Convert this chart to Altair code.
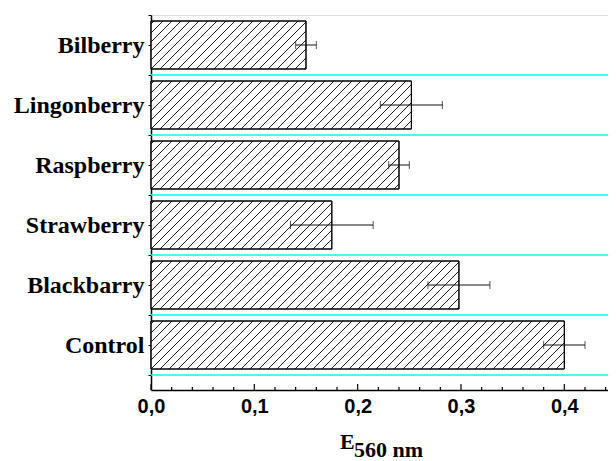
import json
import numpy as np
import pandas as pd
import altair as alt

# ---- data (top to bottom as drawn) ----
categories = ["Bilberry", "Lingonberry", "Raspberry", "Strawberry", "Blackbarry", "Control"]
values = [0.150, 0.252, 0.240, 0.175, 0.298, 0.400]
errors = [0.010, 0.030, 0.010, 0.040, 0.030, 0.020]
x_tick_values = [0.0, 0.1, 0.2, 0.3, 0.4]
x_minor_values = [0.02, 0.04, 0.06, 0.08, 0.12, 0.14, 0.16, 0.18, 0.22, 0.24, 0.26, 0.28,
                  0.32, 0.34, 0.36, 0.38, 0.42, 0.44]

# ---- layout ----
PX_PER_UNIT = 1033.3
W, H = 457, 375
XMAX = W / PX_PER_UNIT
YMIN, YMAX = 0.25, 6.5
BAR_HALF = 0.4
HATCH = 9.0
pxx = W / XMAX
pxy = H / (YMAX - YMIN)

n = len(categories)
pos = [n - i for i in range(n)]

bars = pd.DataFrame({"cat": categories, "value": values, "err": errors, "pos": pos})
bars["y0"] = bars["pos"] - BAR_HALF
bars["y1"] = bars["pos"] + BAR_HALF
bars["lo"] = bars["value"] - bars["err"]
bars["hi"] = bars["value"] + bars["err"]
bars["x0"] = 0.0

# hatch segments derived from the bar rectangles
rows = []
for c, v, p in zip(categories, values, pos):
    wb = v * pxx
    hb = 2 * BAR_HALF * pxy
    k = -np.ceil(hb / HATCH) * HATCH
    while k < wb:
        xs = max(0.0, k)
        xe = min(wb, k + hb)
        if xe - xs > 0.5:
            rows.append({
                "hx0": xs / pxx, "hx1": xe / pxx,
                "hy0": p - BAR_HALF + (xs - k) / pxy,
                "hy1": p - BAR_HALF + (xe - k) / pxy,
            })
        k += HATCH
hatch = pd.DataFrame(rows)

bounds = pd.DataFrame({"b": [p - 0.5 for p in pos]})
bounds["x0"] = 0.0
bounds["x1"] = XMAX

caps = pd.concat([
    bars[["pos"]].assign(cx=bars["lo"]),
    bars[["pos"]].assign(cx=bars["hi"]),
])

ticks = pd.concat([
    pd.DataFrame({"tx": x_tick_values, "ty0": YMIN, "ty1": YMIN + 6 / pxy}),
    pd.DataFrame({"tx": [v for v in x_minor_values if v <= XMAX], "ty0": YMIN, "ty1": YMIN + 3 / pxy}),
])

xscale = alt.Scale(domain=[0, XMAX], nice=False, zero=False)
yscale = alt.Scale(domain=[YMIN, YMAX], nice=False, zero=False)

names_js = json.dumps(categories).replace('"', "'")
y_axis = alt.Axis(
    values=[v / 2 for v in range(1, 14)],
    labelExpr=f"datum.value % 1 == 0 ? {names_js}[{n} - datum.value] : ''",
    labelFont="Liberation Serif",
    labelFontWeight="bold",
    labelFontSize=24,
    labelColor="black",
    labelPadding=4,
    labelOverlap=False,
    tickSize=3,
    tickColor="black",
    tickWidth=1,
    domainColor="black",
    domainWidth=1.5,
    grid=False,
    title=None,
)

x_axis = alt.Axis(
    values=x_tick_values,
    labelExpr="replace(format(datum.value, '.1f'), '.', ',')",
    labelFont="Liberation Sans",
    labelFontWeight="bold",
    labelFontSize=20,
    labelColor="black",
    labelPadding=6,
    labelFlush=False,
    ticks=False,
    domainColor="black",
    domainWidth=1.5,
    grid=False,
    title=None,
)


def X(f):
    return alt.X(f, type="quantitative", scale=xscale, axis=x_axis)


def Y(f):
    return alt.Y(f, type="quantitative", scale=yscale, axis=y_axis)


bar_layer = alt.Chart(bars).mark_bar(fill="white", stroke="black", strokeWidth=1).encode(
    x=X("x0"), x2="value:Q", y=Y("y0"), y2="y1:Q",
)

hatch_layer = alt.Chart(hatch).mark_rule(color="black", strokeWidth=0.9).encode(
    x=X("hx0"), x2="hx1:Q", y=Y("hy0"), y2="hy1:Q",
)

outline_layer = alt.Chart(bars).mark_bar(fill=None, stroke="black", strokeWidth=1).encode(
    x=X("x0"), x2="value:Q", y=Y("y0"), y2="y1:Q",
)

cyan_layer = alt.Chart(bounds).mark_rule(color="#00FFFF", strokeWidth=1.6).encode(
    x=X("x0"), x2="x1:Q", y=Y("b"),
)

tick_layer = alt.Chart(ticks).mark_rule(color="black", strokeWidth=1.2).encode(
    x=X("tx"), y=Y("ty0"), y2="ty1:Q",
)

err_layer = alt.Chart(bars).mark_rule(color="#111111", strokeWidth=1).encode(
    x=X("lo"), x2="hi:Q", y=Y("pos"),
)

cap_layer = alt.Chart(caps).mark_tick(color="#111111", orient="vertical", size=8, thickness=1).encode(
    x=X("cx"), y=Y("pos"),
)

title_e = alt.Chart(pd.DataFrame({"t": ["E"]})).mark_text(
    font="Liberation Serif", fontWeight="bold", fontSize=22, align="left", baseline="alphabetic", color="black"
).encode(x=alt.value(189), y=alt.value(434), text="t:N")

title_sub = alt.Chart(pd.DataFrame({"t": ["560 nm"]})).mark_text(
    font="Liberation Serif", fontWeight="bold", fontSize=22, align="left", baseline="alphabetic", color="black"
).encode(x=alt.value(203), y=alt.value(442), text="t:N")

chart = alt.layer(
    bar_layer, cyan_layer, hatch_layer, outline_layer, tick_layer, err_layer, cap_layer, title_e, title_sub
).properties(
    width=W,
    height=H,
    autosize=alt.AutoSizeParams(type="none"),
    padding={"left": 143, "top": 7, "right": 0, "bottom": 71},
).configure_view(stroke=None).configure(background="white")

chart.save("out.html", embed_options={"renderer": "svg", "actions": False})
